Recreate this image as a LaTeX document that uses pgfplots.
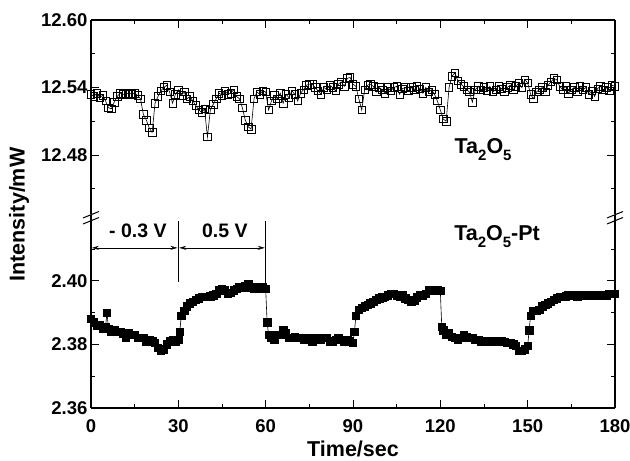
\documentclass[border=0pt]{standalone}
\usepackage{fontspec}
\setmainfont{Liberation Sans}
\usepackage{pgfplots}
\pgfplotsset{compat=1.18}
\usetikzlibrary{arrows.meta}
\newcommand\sub[1]{\raisebox{-0.32em}{\fontsize{15}{15}\selectfont #1}}

\pgfplotstableread{
t v
0 12.534
1 12.532
2 12.535
3 12.531
4 12.533
5 12.528
6 12.522
7 12.521
8 12.527
9 12.532
10 12.535
11 12.534
12 12.534
13 12.535
14 12.534
15 12.535
16 12.533
17 12.530
18 12.516
19 12.511
20 12.504
21 12.500
22 12.526
23 12.532
24 12.537
25 12.540
26 12.542
27 12.536
28 12.526
29 12.534
30 12.538
31 12.533
32 12.536
33 12.530
34 12.532
35 12.528
36 12.524
37 12.520
38 12.518
39 12.521
40 12.496
41 12.520
42 12.525
43 12.530
44 12.535
45 12.533
46 12.537
47 12.534
48 12.535
49 12.538
50 12.532
51 12.530
52 12.522
53 12.511
54 12.505
55 12.503
56 12.530
57 12.536
58 12.534
59 12.537
60 12.536
61 12.520
62 12.528
63 12.533
64 12.530
65 12.535
66 12.526
67 12.534
68 12.531
69 12.537
70 12.534
71 12.528
72 12.535
73 12.538
74 12.542
75 12.543
76 12.543
77 12.540
78 12.537
79 12.534
80 12.540
81 12.538
82 12.542
83 12.540
84 12.537
85 12.543
86 12.545
87 12.541
88 12.548
89 12.549
90 12.543
91 12.541
92 12.530
93 12.520
94 12.538
95 12.542
96 12.543
97 12.541
98 12.536
99 12.540
100 12.538
101 12.535
102 12.540
103 12.537
104 12.540
105 12.541
106 12.534
107 12.539
108 12.540
109 12.537
110 12.540
111 12.538
112 12.541
113 12.539
114 12.535
115 12.540
116 12.536
117 12.538
118 12.534
119 12.528
120 12.520
121 12.512
122 12.510
123 12.540
124 12.550
125 12.553
126 12.546
127 12.543
128 12.541
129 12.538
130 12.536
131 12.527
132 12.538
133 12.541
134 12.538
135 12.540
136 12.537
137 12.541
138 12.536
139 12.538
140 12.541
141 12.539
142 12.536
143 12.540
144 12.542
145 12.538
146 12.541
147 12.544
148 12.540
149 12.547
150 12.544
151 12.534
152 12.530
153 12.536
154 12.538
155 12.540
156 12.536
157 12.542
158 12.545
159 12.548
160 12.547
161 12.541
162 12.538
163 12.541
164 12.535
165 12.538
166 12.540
167 12.536
168 12.541
169 12.538
170 12.540
171 12.534
172 12.537
173 12.532
174 12.539
175 12.541
176 12.538
177 12.540
178 12.537
179 12.542
180 12.541
}\upperdata

\pgfplotstableread{
t v
0 2.388
1 2.387
2 2.386
3 2.386
4 2.385
5 2.3855
5.5 2.390
6 2.385
7 2.384
8 2.3845
9 2.384
10 2.384
11 2.3835
12 2.382
13 2.3835
14 2.383
15 2.383
16 2.382
17 2.382
18 2.382
19 2.381
20 2.3815
21 2.381
22 2.3805
23 2.379
24 2.378
25 2.3785
26 2.380
27 2.381
28 2.3815
29 2.381
30 2.3815
30.5 2.384
31 2.389
32 2.3905
33 2.392
34 2.393
35 2.3935
36 2.394
37 2.3945
38 2.395
39 2.395
40 2.395
41 2.3952
42 2.3955
43 2.396
44 2.397
45 2.3975
46 2.397
47 2.396
48 2.3962
49 2.397
50 2.3975
51 2.398
52 2.398
53 2.3985
54 2.399
55 2.398
56 2.3975
57 2.398
58 2.3975
59 2.398
60 2.3975
60.5 2.387
61 2.383
62 2.382
63 2.3815
64 2.383
65 2.383
66 2.3845
67 2.3835
68 2.382
69 2.382
70 2.3825
71 2.382
72 2.382
73 2.3815
74 2.3815
75 2.382
76 2.381
77 2.3815
78 2.382
79 2.3815
80 2.382
81 2.382
82 2.381
83 2.381
84 2.3815
85 2.382
86 2.3815
87 2.381
88 2.3815
89 2.381
90 2.3805
90.5 2.384
91 2.389
92 2.391
93 2.3915
94 2.392
95 2.3925
96 2.393
97 2.3935
98 2.394
99 2.3945
100 2.3948
101 2.395
102 2.3955
103 2.396
104 2.396
105 2.3955
106 2.3952
107 2.3955
108 2.3945
109 2.394
110 2.3935
111 2.3938
112 2.3948
113 2.3955
114 2.3955
115 2.396
116 2.397
117 2.3972
118 2.397
119 2.397
120 2.3968
120.5 2.3855
121 2.3845
122 2.383
123 2.3835
124 2.3825
125 2.382
126 2.3815
127 2.382
128 2.383
129 2.3825
130 2.382
131 2.382
132 2.3815
133 2.3815
134 2.381
135 2.381
136 2.381
137 2.381
138 2.381
139 2.381
140 2.381
141 2.381
142 2.3808
143 2.3805
144 2.3805
145 2.380
146 2.3795
147 2.378
148 2.378
149 2.3785
150 2.3795
150.5 2.3845
151 2.389
152 2.3905
153 2.3905
154 2.391
155 2.392
156 2.3925
157 2.393
158 2.3935
159 2.394
160 2.3945
161 2.395
162 2.395
163 2.3952
164 2.3955
165 2.3955
166 2.3955
167 2.395
168 2.3955
169 2.3955
170 2.3955
171 2.3955
172 2.3955
173 2.3955
174 2.3955
175 2.3955
176 2.3955
177 2.3955
178 2.396
179 2.396
180 2.396
}\lowerdata

\pgfplotsset{common/.style={
  scale only axis, width=524pt, xmin=0, xmax=180,
  xtick={0,30,...,180}, minor xtick={15,45,...,165},
  major tick length=8pt, minor tick length=4pt,
  every tick/.style={black, line width=0.9pt},
  axis line style={line width=1.1pt},
  tick label style={font=\fontsize{18.5}{18.5}\selectfont\bfseries},
  xticklabel style={yshift=-8pt},
  /pgf/number format/assume math mode=true,
  yticklabel style={/pgf/number format/.cd, fixed, fixed zerofill, precision=2},
  clip=false,
}}

\begin{document}
\begin{tikzpicture}
\useasboundingbox (-91pt,-53pt) rectangle (539pt,408pt);
\begin{axis}[common, at={(0pt,0pt)}, anchor=south west, height=193.5pt,
  ymin=2.36, ymax=2.4209, ytick={2.36,2.38,2.40}, minor ytick={2.37,2.39,2.41},
  axis x line*=bottom,
  xlabel={Time/sec}, xlabel style={font=\fontsize{21.5}{21.5}\selectfont\bfseries, yshift=-1pt}]
\addplot[black, line width=0.6pt, mark=square*, mark size=3.7pt, mark options={solid, fill=black}] table[x=t,y=v]{\lowerdata};
\draw[line width=0.6pt] (axis cs:30,2.4188) -- (axis cs:30,2.3995);
\draw[line width=0.6pt] (axis cs:60,2.4188) -- (axis cs:60,2.3990);
\draw[line width=0.6pt, {Stealth[length=7pt,width=4pt]}-{Stealth[length=7pt,width=4pt]}] (axis cs:0.3,2.4104) -- (axis cs:29.7,2.4104);
\draw[line width=0.6pt, {Stealth[length=7pt,width=4pt]}-{Stealth[length=7pt,width=4pt]}] (axis cs:30.3,2.4104) -- (axis cs:59.7,2.4104);
\node[font=\fontsize{19.5}{19.5}\selectfont\bfseries] at (axis cs:16.1,2.4157) {- 0.3 V};
\node[font=\fontsize{19.5}{19.5}\selectfont\bfseries] at (axis cs:46,2.4157) {0.5 V};
\node[font=\fontsize{21.5}{21.5}\selectfont\bfseries] at (axis cs:139.5,2.4140) {Ta\sub{2}O\sub{5}-Pt};
\end{axis}
\begin{axis}[common, at={(0pt,193.5pt)}, anchor=south west, height=194.5pt,
  ymin=12.4271, ymax=12.60, ytick={12.48,12.54,12.60}, minor ytick={12.45,12.51,12.57},
  axis x line*=top, xticklabel=\empty]
\addplot[black, line width=0.6pt, mark=square, mark size=3.7pt, mark options={solid, fill=white}] table[x=t,y=v]{\upperdata};
\node[font=\fontsize{21.5}{21.5}\selectfont\bfseries] at (axis cs:134.7,12.4850) {Ta\sub{2}O\sub{5}};
\end{axis}
\node[rotate=90, font=\fontsize{21.5}{21.5}\selectfont\bfseries] at (-72pt,193.5pt) {Intensity/mW};
\foreach \xx in {0pt,524pt} {
  \draw[line width=1pt] ([xshift=\xx]-8pt,190pt) -- ([xshift=\xx]8pt,196.5pt);
  \draw[line width=1pt] ([xshift=\xx]-8pt,184pt) -- ([xshift=\xx]8pt,190.5pt);
}
\end{tikzpicture}
\end{document}
